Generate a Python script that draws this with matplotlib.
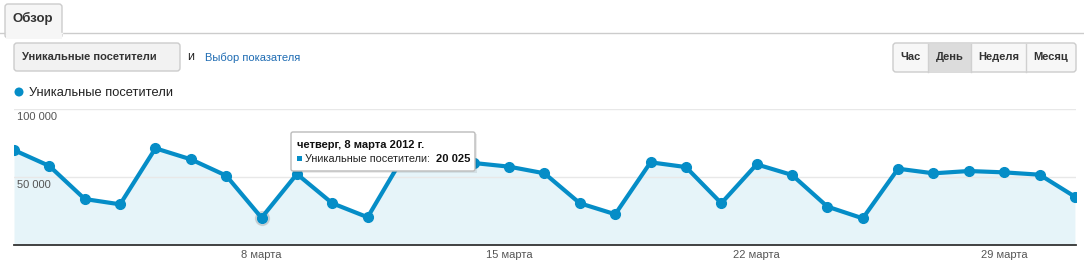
import matplotlib
matplotlib.use("Agg")
import matplotlib.pyplot as plt
from matplotlib.patches import FancyBboxPatch, Rectangle, Circle

plt.rcParams['font.family'] = ['Liberation Sans', 'DejaVu Sans']

# data: unique visitors per day, March 2012
days = list(range(1, 32))
visitors = [69800, 58100, 33800, 29900, 71100, 63000, 51000, 20025, 52200, 30700,
            20400, 64500, 61500, 60300, 57600, 52700, 30700, 22600, 60800, 57300,
            30700, 59300, 51500, 28200, 19600, 56100, 52700, 54400, 53400, 51700,
            35500]
tick_days = [8, 15, 22, 29]
tick_labels = ["8 марта", "15 марта", "22 марта", "29 марта"]
y_ticks = [50000, 100000]
series_name = "Уникальные посетители"
periods = ["Час", "День", "Неделя", "Месяц"]
hover_day = 8

BLUE = "#058dc7"
W, H = 1084, 264

fig = plt.figure(figsize=(W / 100, H / 100), dpi=100)

# chart area in pixels: x 14..1076, y 109..245
ax = fig.add_axes([14 / W, (H - 245) / H, 1062 / W, 136 / H])
x = [d - 1 for d in days]
ax.fill_between(x, visitors, 0, color="#e6f4f9", lw=0)
hi = hover_day - 1
ax.plot(hi, visitors[hi], "o", ms=10, color="#888888", alpha=0.25, zorder=2)
ax.plot(x, visitors, "-o", color=BLUE, lw=3, ms=7, zorder=3)
ax.set_xlim(0, 30.03)
ax.set_ylim(0, 100000)
for v in y_ticks:
    ax.axhline(v, color="#e8e8e8", lw=1, zorder=1)
    ax.annotate(f"{v:,}".replace(",", " "), (0, v), xytext=(3, -8),
                textcoords="offset pixels", va="center", ha="left",
                fontsize=8, color="#555555")
ax.set_xticks([d - 1 for d in tick_days])
ax.set_xticklabels(tick_labels, fontsize=8, color="#555555")
ax.tick_params(axis="x", length=0, pad=3.5)
ax.set_yticks([])
for s in ["top", "left", "right"]:
    ax.spines[s].set_visible(False)
ax.spines["bottom"].set_color("#333333")
ax.spines["bottom"].set_linewidth(1.3)

# UI overlay in pixel coordinates
ui = fig.add_axes([0, 0, 1, 1], zorder=5)
ui.set_xlim(0, W)
ui.set_ylim(H, 0)
ui.axis("off")
ui.patch.set_alpha(0)

# tab
ui.add_patch(FancyBboxPatch((5, 4), 57, 34, boxstyle="round,pad=0,rounding_size=3",
                            fc="#f6f6f6", ec="#cccccc", lw=1))
ui.add_patch(Rectangle((5.5, 32.5), 56, 6, fc="#f6f6f6", ec="none"))
ui.plot([0, 5], [32.5, 32.5], color="#cccccc", lw=1)
ui.plot([62, W], [32.5, 32.5], color="#cccccc", lw=1)
ui.plot([5.5, 61.5], [32.5, 32.5], color="#f6f6f6", lw=1)
ui.text(33, 18.5, "Обзор", fontsize=9.5, fontweight="bold", color="#333333",
        ha="center", va="center")

# metric button
ui.add_patch(FancyBboxPatch((14, 43), 166, 28, boxstyle="round,pad=0,rounding_size=3",
                            fc="#f2f2f2", ec="#cccccc", lw=1))
ui.text(22, 57.5, series_name, fontsize=8, fontweight="bold", color="#333333",
        va="center")
ui.text(187, 57.5, "и", fontsize=9, color="#222222", va="center")
ui.text(205, 57.5, "Выбор показателя", fontsize=8, color="#1f6cb3", va="center")

# period buttons
edges = [893, 928, 971, 1026, 1076]
ui.add_patch(FancyBboxPatch((893, 43), 183, 29, boxstyle="round,pad=0,rounding_size=3",
                            fc="#f7f7f7", ec="#cccccc", lw=1))
ui.add_patch(Rectangle((928, 43.5), 43, 28, fc="#dcdcdc", ec="none"))
for i, p in enumerate(periods):
    if i > 0:
        ui.plot([edges[i], edges[i]], [43.5, 71.5], color="#d0d0d0", lw=1)
    ui.text((edges[i] + edges[i + 1]) / 2, 57.5, p, fontsize=8, fontweight="bold",
            color="#333333", ha="center", va="center")

# legend
ui.add_patch(Circle((19, 92), 4.5, fc=BLUE, ec="none"))
ui.text(29, 92.5, series_name, fontsize=9.3, color="#222222", va="center")

# tooltip
ui.add_patch(Rectangle((293, 134), 184, 39, fc="#000000", alpha=0.08, ec="none"))
ui.add_patch(FancyBboxPatch((291, 132), 184, 39, boxstyle="round,pad=0,rounding_size=2",
                            fc="white", ec="#bbbbbb", lw=1))
ui.text(297, 145, f"четверг, {hover_day} марта 2012 г.", fontsize=8,
        fontweight="bold", color="#111111", va="center")
ui.add_patch(Rectangle((297, 155.5), 5, 5, fc=BLUE, ec="none"))
ui.text(305, 158.5, series_name + ":", fontsize=7.8, color="#222222", va="center")
ui.text(435.5, 158.5, f"{visitors[hi]:,}".replace(",", " "), fontsize=8,
        fontweight="bold", color="#111111", va="center")

fig.savefig("out.png", dpi=100)
